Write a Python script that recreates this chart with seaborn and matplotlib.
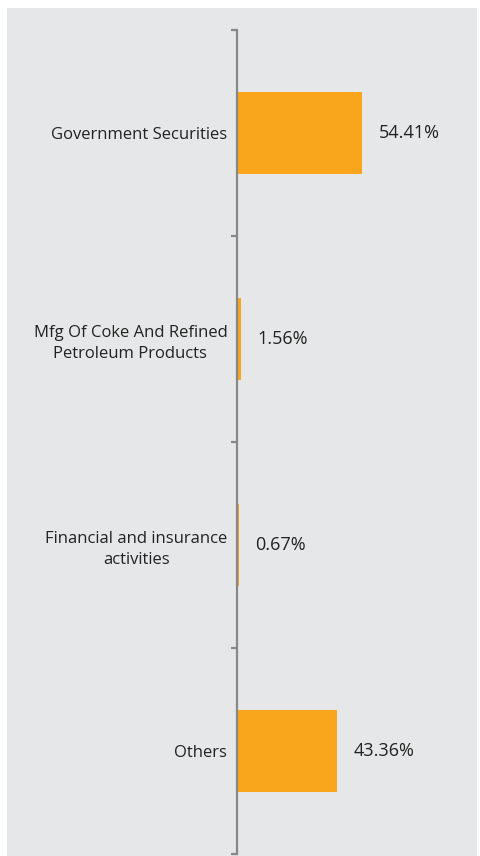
import matplotlib
matplotlib.use("Agg")
import matplotlib.pyplot as plt
import seaborn as sns
import pandas as pd
from matplotlib.patches import Rectangle
from matplotlib.ticker import FixedLocator

categories = ["Government Securities",
              "Mfg Of Coke And Refined\nPetroleum Products",
              "Financial and insurance\nactivities",
              "Others"]
values = [54.41, 1.56, 0.67, 43.36]
value_labels = ["54.41%", "1.56%", "0.67%", "43.36%"]

df = pd.DataFrame({"category": categories, "value": values})

sns.set_style("white")
plt.rcParams['font.family'] = ['Open Sans', 'DejaVu Sans']

W, H = 481, 856
fig = plt.figure(figsize=(W / 100, H / 100), dpi=100, facecolor="white")
bg = "#e6e7e8"
fig.patches.append(Rectangle((7 / W, 0), (477 - 7) / W, (856 - 8) / H,
                             transform=fig.transFigure, facecolor=bg,
                             edgecolor="none", zorder=-10))

ax = fig.add_axes([237 / W, 2 / H, (477 - 237) / W, (854 - 30) / H])
ax.set_zorder(1)
ax.patch.set_alpha(0)

sns.barplot(data=df, y="category", x="value", orient="h", color="#f9a61c",
            width=0.4, saturation=1, linewidth=0, ax=ax)

ax.set_xlim(0, 104.3)
ax.set_ylim(3.5, -0.5)
ax.set_xlabel("")
ax.set_ylabel("")
ax.set_xticks([])

for s in ["top", "right", "bottom"]:
    ax.spines[s].set_visible(False)
ax.spines["left"].set_color("#888888")
ax.spines["left"].set_linewidth(1.6)

ax.yaxis.set_minor_locator(FixedLocator([-0.5, 0.5, 1.5, 2.5, 3.5]))
ax.tick_params(axis="y", which="major", length=0, pad=7, labelsize=12,
               labelcolor="#222222")
ax.tick_params(axis="y", which="minor", length=4.5, width=1.6,
               color="#888888", direction="out", left=True)
for t in ax.get_yticklabels():
    t.set_multialignment("center")
    t.set_linespacing(1.45)

for i, (v, lab) in enumerate(zip(values, value_labels)):
    ax.annotate(lab, xy=(v, i), xytext=(17, 0), textcoords="offset pixels",
                va="center", ha="left", fontsize=13, color="#222222")

fig.savefig("out.png", dpi=100, facecolor="white")
